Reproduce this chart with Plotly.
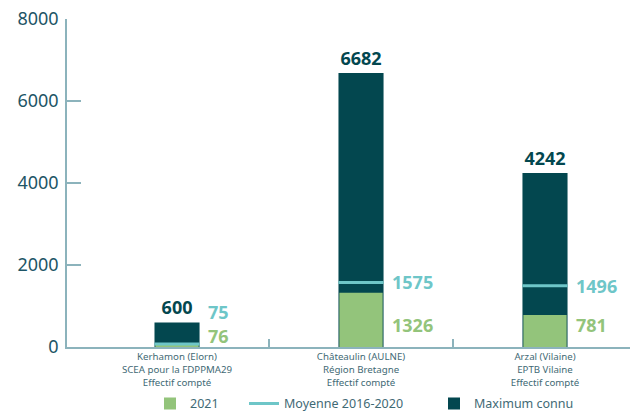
import plotly.graph_objects as go

# Sites de comptage (libellés sur trois lignes)
categories = [
    "Kerhamon (Elorn)<br>SCEA pour la FDPPMA29<br>Effectif compté",
    "Châteaulin (AULNE)<br>Région Bretagne<br>Effectif compté",
    "Arzal (Vilaine)<br>EPTB Vilaine<br>Effectif compté",
]
values_2021 = [76, 1326, 781]
values_moyenne = [75, 1575, 1496]
values_maximum = [600, 6682, 4242]
y_ticks = [0, 2000, 4000, 6000, 8000]

DARK = "#03474f"
GREEN = "#93c47b"
TEAL = "#6ec6c8"
AXIS = "#8cb3bc"
TICKTXT = "#1d5566"
CATTXT = "#3f6a75"
FONT = "Noto Sans"

W, H = 630, 412
M_L, M_R, M_T, M_B = 67, 0, 19, 65

x_pos = list(range(len(categories)))
bar_w = 0.245

fig = go.Figure()

fig.add_trace(go.Bar(
    x=x_pos, y=values_maximum, width=bar_w, name="Maximum connu",
    marker=dict(color=DARK, line=dict(width=0)),
    text=[f"<b>{v}</b>" for v in values_maximum], textposition="outside",
    textfont=dict(family=FONT, size=18, color=DARK), constraintext="none",
    cliponaxis=False, legend="legend3", showlegend=True,
))
fig.add_trace(go.Bar(
    x=x_pos, y=values_2021, width=bar_w - 0.01, name="2021",
    marker=dict(color=GREEN, line=dict(width=0)), legend="legend", showlegend=True,
))

# Segments horizontaux de la moyenne, un par barre
line_x, line_y = [], []
for xi, m in zip(x_pos, values_moyenne):
    line_x += [xi - bar_w / 2, xi + bar_w / 2, None]
    line_y += [m, m, None]
fig.add_trace(go.Scatter(
    x=line_x, y=line_y, mode="lines", name="Moyenne 2016-2020",
    line=dict(color=TEAL, width=3), legend="legend2", showlegend=True,
))

# Étiquettes de valeur à droite des barres
plot_h = H - M_T - M_B
px_per_unit = plot_h / 8000
for xi, v21, vm in zip(x_pos, values_2021, values_moyenne):
    green_c = 22
    moy_px = vm * px_per_unit
    if moy_px - green_c < 18:
        green_c = 11
        moy_y, moy_shift = 0, green_c + 24
    else:
        moy_y, moy_shift = vm, 0
    fig.add_annotation(
        x=xi, y=moy_y, xshift=29, yshift=moy_shift, xanchor="left", yanchor="middle",
        text=f"<b>{vm}</b>", showarrow=False,
        font=dict(family=FONT, size=18, color=TEAL),
    )
    fig.add_annotation(
        x=xi, y=0, xshift=29, yshift=green_c, xanchor="left", yanchor="middle",
        text=f"<b>{v21}</b>", showarrow=False,
        font=dict(family=FONT, size=18, color=GREEN),
    )

# Une légende par entrée, placées côte à côte sous le graphique
legend_style = dict(
    orientation="h", xref="container", yref="container",
    xanchor="left", yanchor="middle", y=0.02,
    font=dict(family=FONT, size=12.5, color=CATTXT), itemwidth=30,
    bgcolor="rgba(0,0,0,0)",
)

fig.update_layout(
    width=W, height=H,
    margin=dict(l=M_L, r=M_R, t=M_T, b=M_B, autoexpand=False),
    barmode="overlay", showlegend=True,
    plot_bgcolor="white", paper_bgcolor="white",
    font=dict(family=FONT),
    legend=dict(legend_style, x=150 / W),
    legend2=dict(legend_style, x=244 / W),
    legend3=dict(legend_style, x=434 / W),
    xaxis=dict(
        range=[-0.598, 2.462], tickmode="array", tickvals=x_pos, ticktext=categories,
        ticks="", showgrid=False, zeroline=False,
        showline=True, linecolor=AXIS, linewidth=1.5,
        tickfont=dict(family=FONT, size=9.7, color=CATTXT),
        minor=dict(tickmode="array", tickvals=[0.5, 1.5], ticks="inside",
                   ticklen=8, tickcolor=AXIS, tickwidth=1.5),
    ),
    yaxis=dict(
        range=[0, 8000], tickmode="array", tickvals=y_ticks,
        ticks="inside", ticklen=14, tickcolor=AXIS, tickwidth=1.5,
        showgrid=False, zeroline=False,
        showline=True, linecolor=AXIS, linewidth=1.5,
        tickfont=dict(family=FONT, size=18, color=TICKTXT),
        ticklabelstandoff=3,
    ),
)

fig.write_html("out.html")
